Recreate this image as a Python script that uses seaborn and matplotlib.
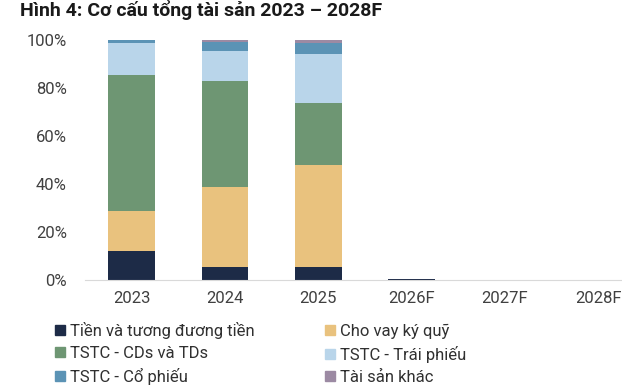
import matplotlib
matplotlib.use("Agg")
import matplotlib.pyplot as plt
import seaborn as sns
import numpy as np
import pandas as pd
from matplotlib.lines import Line2D

years = ["2023", "2024", "2025", "2026F", "2027F", "2028F"]
series_names = ["Tiền và tương đương tiền", "Cho vay ký quỹ", "TSTC - CDs và TDs",
                "TSTC - Trái phiếu", "TSTC - Cổ phiếu", "Tài sản khác"]
cash = [12.1, 5.3, 5.4, 0.6, 0.0, 0.0]
margin = [16.6, 33.6, 42.4, 0.0, 0.0, 0.0]
cds = [56.7, 44.2, 25.8, 0.0, 0.0, 0.0]
bonds = [13.5, 12.3, 20.4, 0.0, 0.0, 0.0]
stocks = [1.0, 3.9, 4.6, 0.0, 0.0, 0.0]
other = [0.1, 0.7, 1.4, 0.0, 0.0, 0.0]
colors = ["#1d2b47", "#e9c27e", "#6e9673", "#b9d5ea", "#5b93b5", "#9c8aa3"]

sns.set_theme(style="white")
plt.rcParams['font.family'] = ['Roboto', 'DejaVu Sans']

values = [cash, margin, cds, bonds, stocks, other]
cum = np.cumsum(np.array(values), axis=0) / 100.0

fig = plt.figure(figsize=(6.22, 3.89), dpi=100)
ax = fig.add_axes([85 / 622, 109 / 389, 560 / 622, 240 / 389])

for i in range(len(values) - 1, -1, -1):
    df = pd.DataFrame({"year": years, "v": cum[i]})
    sns.barplot(data=df, x="year", y="v", color=colors[i], width=0.5,
                saturation=1, ax=ax, order=years, linewidth=0)

ax.set_ylim(0, 1)
ax.set_xlim(-0.5, 5.5)
ticks = np.arange(0, 1.01, 0.2)
ax.set_yticks(ticks)
ax.set_yticklabels([f"{int(round(t*100))}%" for t in ticks])
ax.set_xlabel("")
ax.set_ylabel("")
ax.tick_params(axis="both", length=0, labelsize=12, colors="#404040")
ax.tick_params(axis="y", pad=13)
ax.tick_params(axis="x", pad=8)
for s in ["top", "right", "left"]:
    ax.spines[s].set_visible(False)
ax.spines["bottom"].set_color("#d9d9d9")
ax.spines["bottom"].set_linewidth(0.8)
ax.grid(False)

order = [0, 2, 4, 1, 3, 5]
handles = [Line2D([0], [0], marker="s", color="none", markerfacecolor=colors[k],
                  markeredgecolor=colors[k], markersize=7) for k in order]
labels = [series_names[k] for k in order]
fig.legend(handles, labels, loc="upper left", bbox_to_anchor=(55 / 622, 1 - 322 / 389),
           ncol=2, frameon=False, fontsize=12, handlelength=0.6, handletextpad=0.3,
           columnspacing=4.2, labelspacing=0.42, borderaxespad=0, borderpad=0,
           labelcolor="#303030")

fig.text(20 / 622, 1 - 0.5 / 389, "Hình 4: Cơ cấu tổng tài sản 2023 – 2028F",
         fontsize=14, fontweight="bold", color="#1a1a1a", va="top", ha="left")

fig.savefig("out.png", dpi=100)
